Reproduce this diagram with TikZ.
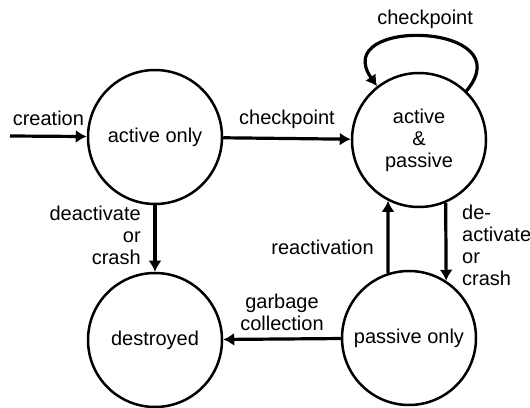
\documentclass[tikz,border=0pt]{standalone}
\usepackage{fontspec}
\setmainfont{Liberation Sans}
\usetikzlibrary{arrows.meta}

\begin{document}
\begin{tikzpicture}[x=0.5pt, y=0.5pt, >={Latex[length=5.5pt,width=6.5pt]}, line width=1.6pt,
    every node/.style={font=\fontsize{10}{11}\selectfont},
    state/.style={circle, draw, line width=1.25pt, minimum size=67pt, inner sep=0pt, align=center}]
    \useasboundingbox (0,0) rectangle (530,407);
    \node[state] (ao) at (155,270) {active only};
    \node[state] (ap) at (419,267) {active\\\&\\passive};
    \node[state] (ds) at (155,67) {destroyed};
    \node[state] (po) at (409,69) {passive only};
    \coordinate (start) at (10,271);

    \draw[->] (start) -- node[above=1pt] {creation} (ao);
    \draw[->] (ao) -- node[above=1pt] {checkpoint} (ap);
    \draw[->] (ap.46) .. controls +(50:90) and +(125:85) .. node[above] {checkpoint} (ap.128);
    \draw[->] (ao) -- node[left=3pt,align=right,pos=.45] {deactivate\\or\\crash} (ds);
    \draw[->] (po.108) -- node[left=3pt,pos=.35] {reactivation} (ap.243);
    \draw[->] (ap.293) -- node[right=4pt,align=left,pos=.55] {de-\\activate\\or\\crash} (po.57);
    \draw[->] (po) -- node[above,align=center] {garbage\\collection} (ds);
\end{tikzpicture}
\end{document}
